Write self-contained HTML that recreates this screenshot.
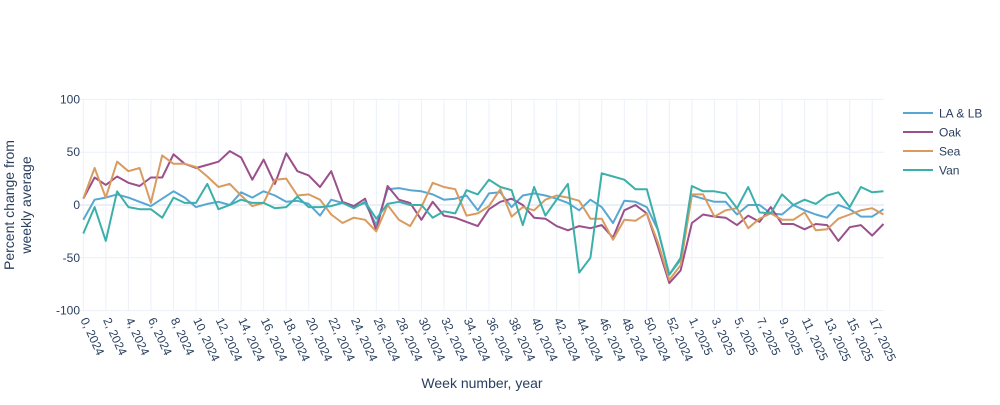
<!DOCTYPE html>
<html><head><meta charset="utf-8"><style>
body{margin:0;background:#fff;font-family:"Liberation Sans",sans-serif;}
svg text{font-family:"Liberation Sans",sans-serif;fill:#2a3f5f;}
</style></head><body>
<svg id="chart" width="1000" height="400" viewBox="0 0 1000 400">
<g id="grid"></g>
<g id="lines"></g>
<g id="yticks"></g>
<g id="xticks"></g>
<text transform="translate(14,205) rotate(-90)" text-anchor="middle" font-size="14"><tspan x="0" dy="0">Percent change from</tspan><tspan x="0" dy="17">weekly average</tspan></text>
<text x="482" y="388" text-anchor="middle" font-size="14">Week number, year</text>
<g id="legend"></g>
</svg>
<script>
const categories = [];
for (let w = 0; w <= 52; w++) categories.push(w + ", 2024");
for (let w = 0; w <= 18; w++) categories.push(w + ", 2025");
const seriesNames = ["LA & LB", "Oak", "Sea", "Van"];
const seriesColors = ["#57a7d2", "#9c508b", "#d99b5f", "#3bb0aa"];
const laLb = [-14,5,7,10,7,3,-1,6,13,7,-2,1,3,0,12,7,13,9,3,4,1,-10,5,2,-2,2,-19,15,16,14,13,10,5,6,9,-5,11,12,-2,9,11,9,6,2,-5,5,-2,-17,4,3,-2,-24,-66,-52,9,6,3,3,-9,0,0,-8,-9,0,-5,-9,-12,0,-4,-11,-11,-4];
const oak = [6,26,19,27,21,18,26,26,48,39,35,38,41,51,45,24,43,20,49,32,28,17,32,3,-1,6,-24,18,5,2,-14,3,-10,-12,-16,-20,-4,3,6,0,-12,-13,-20,-24,-20,-22,-19,-31,-5,0,-8,-40,-74,-62,-17,-9,-11,-12,-19,-10,-16,-2,-18,-18,-23,-18,-19,-34,-21,-19,-29,-18];
const sea = [6,35,7,41,32,35,2,47,39,39,36,27,17,20,9,-1,2,24,25,9,10,5,-9,-17,-12,-14,-25,0,-14,-20,-2,21,17,15,-10,-8,-1,15,-11,-2,-5,5,9,7,4,-13,-13,-33,-14,-15,-8,-36,-71,-57,10,10,-11,-5,-3,-22,-13,-8,-14,-14,-7,-24,-23,-13,-9,-5,-3,-9];
const van = [-27,-2,-34,13,-2,-4,-4,-12,7,2,2,20,-4,0,5,2,2,-3,-2,8,-2,-2,-1,2,-3,3,-13,1,3,0,0,-12,-6,-8,14,10,24,17,14,-19,17,-10,5,20,-64,-50,30,27,24,15,15,-24,-66,-50,18,13,13,11,-3,17,-7,-8,10,0,5,1,9,12,-2,17,12,13];
const seriesValues = [laLb, oak, sea, van];
const yTicks = [-100, -50, 0, 50, 100];

const NS = "http://www.w3.org/2000/svg";
const x0 = 83.3, xStep = 11.27, yZero = 205, yScale = 1.056;
function xPos(i){ return x0 + i * xStep; }
function yPos(v){ return yZero - v * yScale; }
function mk(tag, attrs, parent){ const e = document.createElementNS(NS, tag); for (const k in attrs) e.setAttribute(k, attrs[k]); parent.appendChild(e); return e; }

const grid = document.getElementById("grid");
const xt = document.getElementById("xticks");
for (let i = 0; i < categories.length; i += 2) {
  const gl = mk("line", {x1: xPos(i), x2: xPos(i), y1: 100, y2: 311, stroke: "#ebf0f8", "stroke-width": 1}, grid);
  
  
  const t = mk("text", {transform: "translate(" + (xPos(i) - 3) + ",320) rotate(65)", "font-size": 12}, xt);
  
  
  t.textContent = categories[i];
}
const yt = document.getElementById("yticks");
yTicks.forEach(v => {
  const gl = mk("line", {x1: 80, x2: 884, y1: yPos(v), y2: yPos(v), stroke: v === 0 ? "#ebf0f8" : "#ebf0f8", "stroke-width": v === 0 ? 2 : 1}, grid);
  
  
  const t = mk("text", {x: 83 - 3, y: yPos(v) + 4, "text-anchor": "end", "font-size": 12}, yt);
  
  
  t.textContent = v;
});
const lines = document.getElementById("lines");
seriesValues.forEach((vals, s) => {
  const pts = vals.map((v, i) => xPos(i).toFixed(1) + "," + yPos(v).toFixed(1)).join(" ");
  const pl = mk("polyline", {points: pts, fill: "none", stroke: seriesColors[s], "stroke-width": 2, "stroke-linejoin": "round"}, lines);
  
  
});
const lg = document.getElementById("legend");
seriesNames.forEach((n, s) => {
  const y = 113 + s * 19;
  const g = mk("g", {}, lg);
  
  
  mk("line", {x1: 903, x2: 933, y1: y, y2: y, stroke: seriesColors[s], "stroke-width": 2}, g);
  const t = mk("text", {x: 939, y: y + 4.5, "font-size": 12}, g);
  t.textContent = n;
});
</script>
</body></html>
